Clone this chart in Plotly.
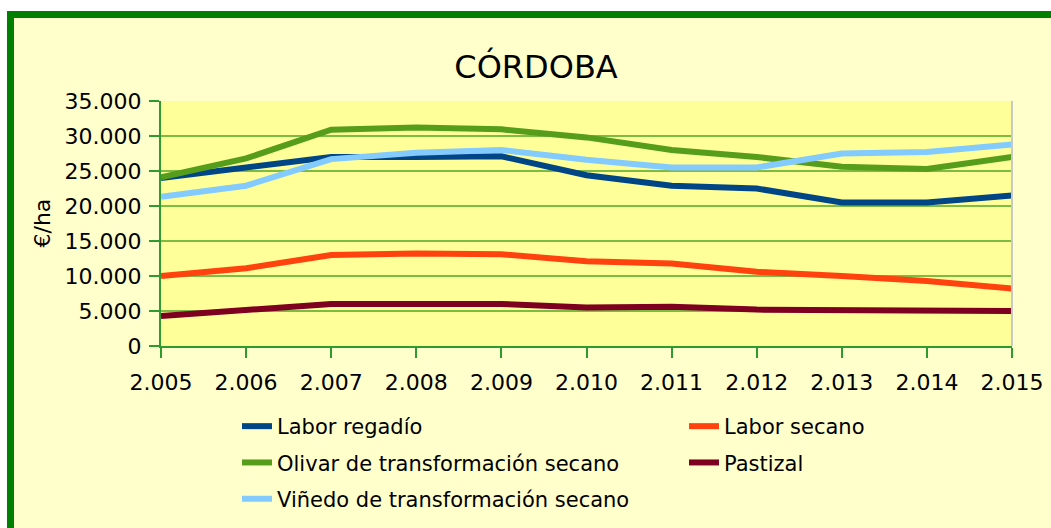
import plotly.graph_objects as go

years = [2005, 2006, 2007, 2008, 2009, 2010, 2011, 2012, 2013, 2014, 2015]

labor_regadio = [24000, 25500, 27000, 27000, 27100, 24400, 22900, 22500, 20500, 20500, 21500]
labor_secano = [10000, 11100, 13000, 13200, 13100, 12100, 11800, 10600, 10000, 9300, 8200]
olivar = [24100, 26800, 30900, 31200, 30950, 29800, 28000, 27000, 25600, 25300, 27000]
pastizal = [4300, 5100, 6000, 6000, 6000, 5500, 5600, 5200, 5200, 5000, 5000]
vinedo = [21300, 22900, 26700, 27600, 28000, 26600, 25500, 25500, 27500, 27700, 28800]

series = [
    ("Labor regadío", labor_regadio, "#004586", "legend"),
    ("Labor secano", labor_secano, "#FF420E", "legend2"),
    ("Olivar de transformación secano", olivar, "#579D1C", "legend"),
    ("Pastizal", pastizal, "#7E0021", "legend2"),
    ("Viñedo de transformación secano", vinedo, "#83CAFF", "legend"),
]

W, H = 1051, 528
L, R, T, B = 161, 1012, 101, 346


def px_x(p):
    return (p - L) / (R - L)


def px_y(p):
    return (B - p) / (B - T)


fig = go.Figure()
for i, (name, vals, color, leg) in enumerate(series):
    fig.add_trace(go.Scatter(
        x=years, y=vals, name=name, mode="lines",
        line=dict(color=color, width=6),
        legend=leg, legendgroup="g%d" % i,
        hoverinfo="skip",
    ))

font_main = "DejaVu Sans"
axis_green = "#2F9A2F"
grid_green = "#7DBB42"

legend_common = dict(
    orientation="v", xanchor="left", yanchor="top",
    bgcolor="rgba(0,0,0,0)", borderwidth=0,
    font=dict(family=font_main, size=21, color="#000000"),
    tracegroupgap=6, traceorder="grouped",
    xref="paper", yref="paper",
)

fig.update_layout(
    width=W, height=H,
    margin=dict(l=L, r=W - R, t=T, b=H - B, pad=0, autoexpand=False),
    paper_bgcolor="#FFFFCC",
    plot_bgcolor="#FFFF99",
    separators=",.",
    title=dict(
        text="CÓRDOBA", x=px_x(536), xref="paper", xanchor="center",
        y=1 - 67 / H, yref="container", yanchor="middle",
        font=dict(family=font_main, size=32, color="#000000"),
    ),
    legend=dict(x=px_x(237), y=px_y(406), **legend_common),
    legend2=dict(x=px_x(684), y=px_y(406), **legend_common),
    xaxis=dict(
        range=[2005, 2015], dtick=1, tickformat=",d",
        showgrid=False, zeroline=False, automargin=False,
        showline=True, linecolor=axis_green, linewidth=2,
        ticks="outside", ticklen=10, tickcolor=axis_green, tickwidth=2,
        tickfont=dict(family=font_main, size=22, color="#000000"),
        ticklabelstandoff=6,
    ),
    yaxis=dict(
        range=[0, 35000], dtick=5000, tickformat=",d",
        showgrid=True, gridcolor=grid_green, gridwidth=2,
        zeroline=False, automargin=False,
        showline=True, linecolor=axis_green, linewidth=2,
        ticks="outside", ticklen=10, tickcolor=axis_green, tickwidth=2,
        tickfont=dict(family=font_main, size=22, color="#000000"),
        ticklabelstandoff=3,
    ),
    annotations=[dict(
        text="€/ha", textangle=-90, showarrow=False,
        x=px_x(42), y=0.5, xref="paper", yref="paper",
        xanchor="center", yanchor="middle",
        font=dict(family=font_main, size=22, color="#000000"),
    )],
    shapes=[
        dict(type="rect", xref="paper", yref="paper",
             x0=-0.25, x1=1.1, y0=px_y(11), y1=1.6,
             fillcolor="#FFFFFF", line=dict(width=0), layer="below"),
        dict(type="rect", xref="paper", yref="paper",
             x0=-0.25, x1=px_x(7), y0=-1.0, y1=1.6,
             fillcolor="#FFFFFF", line=dict(width=0), layer="below"),
        dict(type="rect", xref="paper", yref="paper",
             x0=px_x(10.5), x1=1.1, y0=-1.0, y1=px_y(14.5),
             fillcolor="rgba(0,0,0,0)", line=dict(color="#007F00", width=7),
             layer="below"),
        dict(type="line", xref="paper", yref="paper",
             x0=1, x1=1, y0=0, y1=1,
             line=dict(color="#C8C8C8", width=2), layer="above"),
    ],
    showlegend=True,
)

fig.write_html(
    "out.html",
    config={"displayModeBar": False},
    post_script=(
        "document.body.style.margin='0';"
        "document.body.style.padding='0';"
        "document.body.style.overflow='hidden';"
    ),
)
